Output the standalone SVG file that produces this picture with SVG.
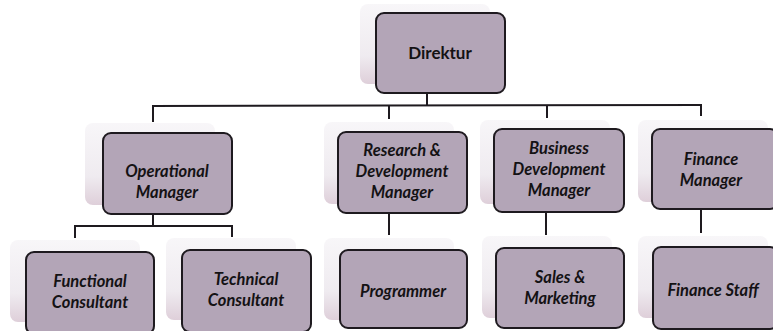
<svg xmlns="http://www.w3.org/2000/svg" width="773" height="331" viewBox="0 0 773 331">
  <defs>
    <linearGradient id="sh" x1="0" y1="0" x2="0" y2="1">
      <stop offset="0" stop-color="#f6f4f7"/>
      <stop offset="0.65" stop-color="#ebe6ec"/>
      <stop offset="1" stop-color="#d6c3d0"/>
    </linearGradient>
    <style>
      .box { fill: #b3a5b7; stroke: #1e1a1f; stroke-width: 2; }
      .shadow { fill: url(#sh); opacity: 0.8; }
      .lbl { font-family: Lato, "Open Sans", "Liberation Sans", sans-serif; font-weight: bold; font-style: italic; font-size: 16.5px; fill: #141214; text-anchor: middle; }
      .top { font-family: Lato, "Open Sans", "Liberation Sans", sans-serif; font-weight: bold; font-size: 17px; fill: #141214; text-anchor: middle; }
      .conn line { stroke: #1e1a1f; stroke-width: 2; }
    </style>
  </defs>
  <rect width="773" height="331" fill="#ffffff"/>

  <g id="connectors" class="conn">
    <line x1="427" y1="93" x2="427" y2="106"/>
    <line x1="152" y1="106" x2="702" y2="105"/>
    <line x1="153" y1="105" x2="153" y2="122"/>
    <line x1="389" y1="105" x2="389" y2="119"/>
    <line x1="547" y1="105" x2="547" y2="118"/>
    <line x1="701" y1="104" x2="701" y2="116"/>
    <line x1="153" y1="214" x2="153" y2="226"/>
    <line x1="74" y1="226" x2="233" y2="226"/>
    <line x1="75" y1="225" x2="75" y2="238"/>
    <line x1="232" y1="225" x2="232" y2="237"/>
    <line x1="389" y1="213" x2="389" y2="235"/>
    <line x1="546" y1="212" x2="546" y2="235"/>
    <line x1="701" y1="209" x2="701" y2="233"/>
  </g>

  <g id="direktur">
    <rect class="shadow" x="360" y="4" width="130" height="80" rx="8"/>
    <rect class="box" x="376" y="13" width="129" height="80" rx="8"/>
    <text class="top" x="440" y="59">Direktur</text>
  </g>

  <g id="operational-manager">
    <rect class="shadow" x="85" y="123" width="130" height="82" rx="8"/>
    <rect class="box" x="103" y="133" width="129" height="81" rx="8"/>
    <text class="lbl" x="167" y="177">Operational</text>
    <text class="lbl" x="167" y="198">Manager</text>
  </g>

  <g id="rnd-manager">
    <rect class="shadow" x="324" y="122" width="130" height="82" rx="8"/>
    <rect class="box" x="338" y="132" width="129" height="81" rx="8"/>
    <text class="lbl" x="402" y="156">Research &amp;</text>
    <text class="lbl" x="402" y="177">Development</text>
    <text class="lbl" x="402" y="198">Manager</text>
  </g>

  <g id="business-development-manager">
    <rect class="shadow" x="480" y="120" width="130" height="84" rx="8"/>
    <rect class="box" x="494" y="129" width="130" height="83" rx="8"/>
    <text class="lbl" x="559" y="154">Business</text>
    <text class="lbl" x="559" y="175">Development</text>
    <text class="lbl" x="559" y="196">Manager</text>
  </g>

  <g id="finance-manager">
    <rect class="shadow" x="638" y="120" width="130" height="82" rx="8"/>
    <rect class="box" x="652" y="129" width="126" height="80" rx="8"/>
    <text class="lbl" x="711" y="165">Finance</text>
    <text class="lbl" x="711" y="186">Manager</text>
  </g>

  <g id="functional-consultant">
    <rect class="shadow" x="10" y="240" width="130" height="82" rx="8"/>
    <rect class="box" x="26" y="252" width="128" height="82" rx="8"/>
    <text class="lbl" x="90" y="287">Functional</text>
    <text class="lbl" x="90" y="308">Consultant</text>
  </g>

  <g id="technical-consultant">
    <rect class="shadow" x="166" y="238" width="130" height="82" rx="8"/>
    <rect class="box" x="182" y="250" width="129" height="82" rx="8"/>
    <text class="lbl" x="246" y="285">Technical</text>
    <text class="lbl" x="246" y="306">Consultant</text>
  </g>

  <g id="programmer">
    <rect class="shadow" x="324" y="238" width="130" height="82" rx="8"/>
    <rect class="box" x="340" y="250" width="127" height="78" rx="8"/>
    <text class="lbl" x="403" y="297">Programmer</text>
  </g>

  <g id="sales-marketing">
    <rect class="shadow" x="482" y="236" width="130" height="82" rx="8"/>
    <rect class="box" x="496" y="248" width="128" height="80" rx="8"/>
    <text class="lbl" x="560" y="283">Sales &amp;</text>
    <text class="lbl" x="560" y="304">Marketing</text>
  </g>

  <g id="finance-staff">
    <rect class="shadow" x="638" y="236" width="130" height="82" rx="8"/>
    <rect class="box" x="653" y="247" width="125" height="82" rx="8"/>
    <text class="lbl" x="713" y="296">Finance Staff</text>
  </g>
</svg>
